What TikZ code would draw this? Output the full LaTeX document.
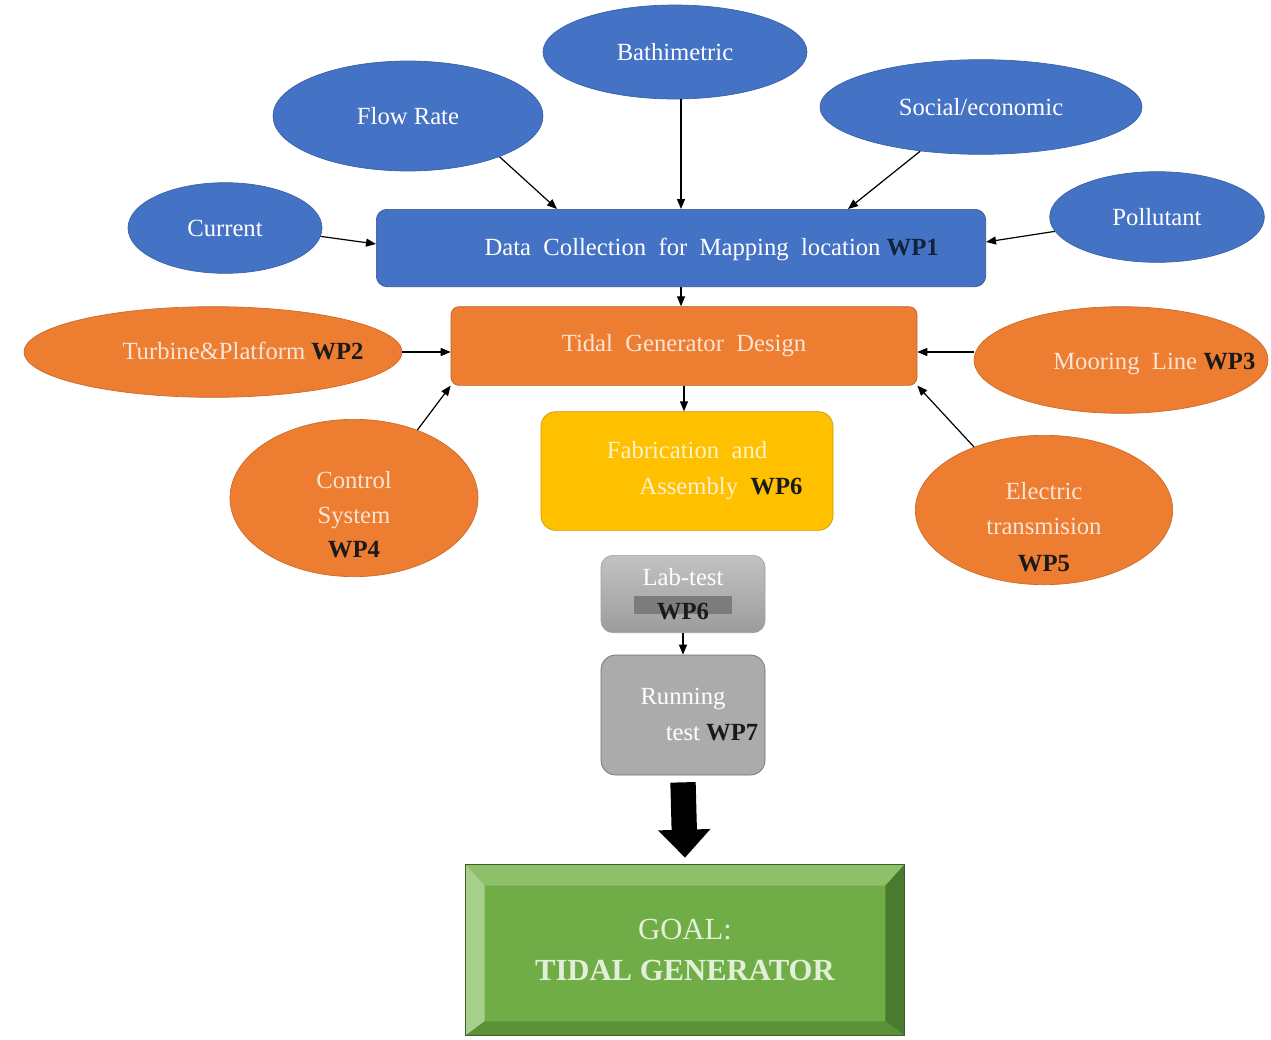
\documentclass[tikz,border=0pt]{standalone}
\usepackage{fontspec}
\setmainfont{LiberationSerif}[Extension=.ttf,UprightFont=*-Regular,BoldFont=*-Bold]
\usetikzlibrary{shapes.geometric,arrows.meta}

\definecolor{mapblue}{HTML}{4472C4}
\definecolor{designorange}{HTML}{ED7D31}
\definecolor{fabyellow}{HTML}{FFC000}
\definecolor{testgray}{HTML}{ABABAB}
\definecolor{labtop}{HTML}{C2C2C2}
\definecolor{labbottom}{HTML}{9C9C9C}
\definecolor{labband}{HTML}{7C7C7C}
\definecolor{goalgreen}{HTML}{70AD47}
\definecolor{goaltop}{HTML}{8EC069}
\definecolor{goalleft}{HTML}{A8D08D}
\definecolor{goalright}{HTML}{4A7A2E}
\definecolor{goalbottom}{HTML}{5C9038}
\definecolor{goaltext}{HTML}{E2F0D9}
\definecolor{creamtext}{HTML}{FBE5D6}
\definecolor{fabtext}{HTML}{FFF2CC}
\definecolor{wpblack}{HTML}{1A1A1A}
\definecolor{wpnavy}{HTML}{14213D}

\newcommand{\wpx}[1]{\textbf{\color{wpblack}#1}}
\newcommand{\tcell}[3]{\raisebox{\dimexpr-4.6pt-(#2)\relax}[0pt][0pt]{\makebox[0pt]{\hspace*{2\dimexpr#1\relax}\begin{tabular}{@{}c@{}}#3\end{tabular}}}}

\begin{document}
\begin{tikzpicture}[x=0.75pt,y=-0.75pt,
    every node/.style={font=\fontsize{18.5}{26}\selectfont,inner sep=0pt},
    topic/.style={ellipse,fill=mapblue,draw=mapblue!85!black,line width=0.5pt,text=white},
    part/.style={ellipse,fill=designorange,draw=designorange!85!black,line width=0.5pt,text=creamtext},
    stage/.style={rectangle,line width=0.5pt},
    feed/.style={-{Triangle[length=7.5pt,width=6pt]},line width=0.9pt},
    push/.style={-{Triangle[length=21pt,width=38pt]},line width=19pt}]
  \useasboundingbox (0,0) rectangle (1271,1039);

  \node[topic,minimum width=198pt,minimum height=70.5pt] (bath) at (675,52) {Bathimetric};
  \node[topic,minimum width=202.5pt,minimum height=82.5pt] (flow) at (408,116) {Flow Rate};
  \node[topic,minimum width=241.5pt,minimum height=71pt] (social) at (981,107) {Social/economic};
  \node[topic,minimum width=145.5pt,minimum height=68pt] (current) at (225,228) {Current};
  \node[topic,minimum width=161pt,minimum height=68pt] (pollutant) at (1157,217) {Pollutant};

  \node[stage,rounded corners=8pt,fill=mapblue,draw=mapblue!70!black,text=white,
    minimum width=457pt,minimum height=58pt] (data) at (681,248)
    {\tcell{23pt}{0pt}{Data~ Collection~ for~ Mapping~ location \textbf{\color{wpnavy}WP1}}};

  \node[stage,rounded corners=6pt,fill=designorange,draw=designorange!80!black,text=creamtext,
    minimum width=349.5pt,minimum height=59pt] (tidal) at (684,346) {Tidal~ Generator~ Design};

  \node[part,minimum width=283.5pt,minimum height=68pt] (turbine) at (213,352)
    {\tcell{22.5pt}{0pt}{Turbine\&Platform \wpx{WP2}}};
  \node[part,minimum width=220.5pt,minimum height=80pt] (mooring) at (1121,360)
    {\tcell{25pt}{1.5pt}{Mooring~ Line \wpx{WP3}}};
  \node[part,minimum width=186pt,minimum height=118pt] (control) at (354,498)
    {\tcell{0pt}{13.5pt}{Control\\System\\\wpx{WP4}}};
  \node[part,minimum width=193pt,minimum height=112pt] (electric) at (1044,510)
    {\tcell{0pt}{14pt}{Electric\\transmision\\[2pt]\wpx{WP5}}};

  \node[stage,rounded corners=11pt,fill=fabyellow,draw=fabyellow!80!black,text=fabtext,align=center,
    minimum width=219pt,minimum height=89pt] (fab) at (687,471)
    {Fabrication~ and\\[1pt]\hspace*{51pt}Assembly~ \wpx{WP6}};

  \node[stage,rounded corners=9pt,top color=labtop,bottom color=labbottom,draw=gray!75,text=white,align=center,
    minimum width=123pt,minimum height=58pt] (lab) at (683,594)
    {Lab-test\\[-1pt]\rlap{\color{labband}\rule[4pt]{74pt}{13.5pt}}\makebox[74pt]{\wpx{WP6}}};

  \node[stage,rounded corners=11pt,fill=testgray,draw=gray!85!black,text=white,align=center,
    minimum width=123pt,minimum height=90pt] (run) at (683,715)
    {Running\\[1pt]\hspace*{43.5pt}test \wpx{WP7}};

  \node[stage,fill=goalgreen,minimum width=328.5pt,minimum height=127.5pt] (goal) at (685,950) {};
  \fill[goaltop] (goal.north west) -- (goal.north east) -- ([shift={(-19,21)}]goal.north east)
    -- ([shift={(19,21)}]goal.north west) -- cycle;
  \fill[goalleft] (goal.north west) -- ([shift={(19,21)}]goal.north west)
    -- ([shift={(19,-14)}]goal.south west) -- (goal.south west) -- cycle;
  \fill[goalright] (goal.north east) -- ([shift={(-19,21)}]goal.north east)
    -- ([shift={(-19,-14)}]goal.south east) -- (goal.south east) -- cycle;
  \fill[goalbottom] (goal.south west) -- ([shift={(19,-14)}]goal.south west)
    -- ([shift={(-19,-14)}]goal.south east) -- (goal.south east) -- cycle;
  \draw[goalgreen!55!black,line width=0.5pt] (goal.north west) rectangle (goal.south east);
  \node[font=\fontsize{23}{30}\selectfont,text=goaltext,align=center] (goaltitle) at (goal.center)
    {GOAL:\\[1pt]\textbf{TIDAL GENERATOR}};

  \draw[feed] (flow.-24) -- ([shift={(-124,0)}]data.north);
  \draw[feed] (bath.south -| data.north) -- (data.north);
  \draw[feed] (social.216) -- ([shift={(167,0)}]data.north);
  \draw[feed] (current.-5) -- ([shift={(0,-4)}]data.west);
  \draw[feed] (pollutant.188) -- ([shift={(0,-6)}]data.east);
  \draw[feed] (data.south) -- (data.south |- tidal.north);
  \draw[feed] (turbine.east) -- (turbine.east -| tidal.west);
  \draw[feed] (mooring.west |- turbine.east) -- (turbine.east -| tidal.east);
  \draw[feed] (control.47) -- (tidal.south west);
  \draw[feed] (electric.138) -- (tidal.south east);
  \draw[feed] (tidal.south) -- (tidal.south |- fab.north);
  \draw[feed] (lab.south) -- (run.north);
  \draw[push] ([shift={(0,7)}]run.south) -- ([shift={(0,-7)}]goal.north);
\end{tikzpicture}
\end{document}
